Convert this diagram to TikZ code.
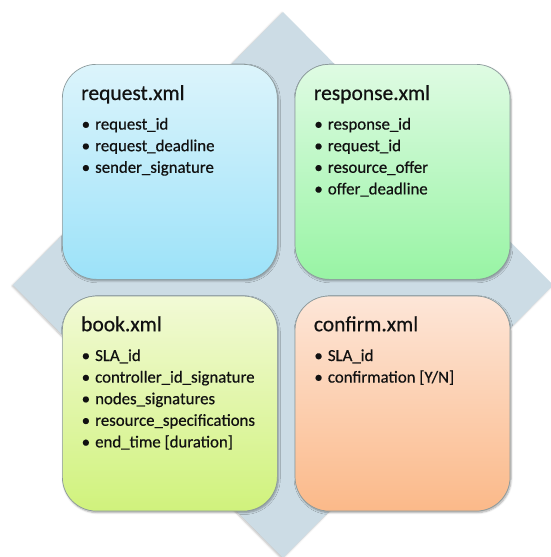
\documentclass[tikz,border=0pt]{standalone}
\usepackage{fontspec}
\setmainfont{Carlito}[FakeBold=0.5]
\usepackage{tikz}
\usetikzlibrary{positioning, calc, shadows.blur}
\definecolor{diamondgrey}{HTML}{CCDCE5}
\definecolor{boxedge}{HTML}{8C9A9C}
\definecolor{inkdark}{HTML}{111111}
\definecolor{reqtop}{HTML}{DCF4FB}
\definecolor{reqbot}{HTML}{9CE2F9}
\definecolor{resptop}{HTML}{DFFBE3}
\definecolor{respbot}{HTML}{98F4A4}
\definecolor{booktop}{HTML}{F2FAD6}
\definecolor{bookbot}{HTML}{D0F27C}
\definecolor{conftop}{HTML}{FDE6D8}
\definecolor{confbot}{HTML}{FBB989}

\begin{document}
\begin{tikzpicture}[x=1pt, y=-1pt,
    xmlbox/.style={draw=boxedge, line width=0.7pt, rounded corners=34pt,
      minimum width=215pt, minimum height=215pt, inner sep=0pt,
      blur shadow={shadow xshift=1pt, shadow yshift=-1.5pt, shadow opacity=35, shadow blur steps=6}},
    boxtitle/.style={anchor=base west, inner sep=0pt, text=inkdark, font=\fontsize{21.5}{24}\selectfont},
    boxitem/.style={anchor=base west, inner sep=0pt, text=inkdark, font=\fontsize{16.8}{20}\selectfont}]
    \useasboundingbox (0,0) rectangle (551,557);
    % Background diamond behind the four message boxes
    \fill[diamondgrey, blur shadow={shadow xshift=-1pt, shadow yshift=-1pt, shadow opacity=25, shadow blur steps=4}]
      (283,12) -- (553,285) -- (283,558) -- (13,285) -- cycle;
    % The four xml messages
    \node[xmlbox, top color=reqtop, bottom color=reqbot, anchor=north west] (request) at (62,64) {};
    \node[xmlbox, top color=resptop, bottom color=respbot, right=17pt of request] (response) {};
    \node[xmlbox, top color=booktop, bottom color=bookbot, below=16pt of request] (book) {};
    \node[xmlbox, top color=conftop, bottom color=confbot, below=16pt of response] (confirm) {};
    % Titles
    \node[boxtitle] (requestTitle) at ($(request.north west)+(19,36)$) {request.xml};
    \node[boxtitle] (responseTitle) at ($(response.north west)+(19,36)$) {response.xml};
    \node[boxtitle] (bookTitle) at ($(book.north west)+(19,35.5)$) {book.xml};
    \node[boxtitle] (confirmTitle) at ($(confirm.north west)+(19,35.5)$) {confirm.xml};
    % Field lists
    \foreach \txt [count=\i] in {request\_id, request\_deadline, sender\_signature}
      \node[boxitem] (request-\i) at ($(request.north west)+(19.5,44+21.6*\i)$) {\makebox[13.5pt][l]{\textbullet}\txt};
    \foreach \txt [count=\i] in {response\_id, request\_id, resource\_offer, offer\_deadline}
      \node[boxitem] (response-\i) at ($(response.north west)+(19.5,44+21.6*\i)$) {\makebox[13.5pt][l]{\textbullet}\txt};
    \foreach \txt [count=\i] in {SLA\_id, controller\_id\_signature, nodes\_signatures, resource\_specifications, {end\_time [duration]}}
      \node[boxitem] (book-\i) at ($(book.north west)+(19.5,43.7+21.6*\i)$) {\makebox[13.5pt][l]{\textbullet}\txt};
    \foreach \txt [count=\i] in {SLA\_id, {confirmation [Y/N]}}
      \node[boxitem] (confirm-\i) at ($(confirm.north west)+(19.5,43.7+21.6*\i)$) {\makebox[13.5pt][l]{\textbullet}\txt};
  \end{tikzpicture}
\end{document}
